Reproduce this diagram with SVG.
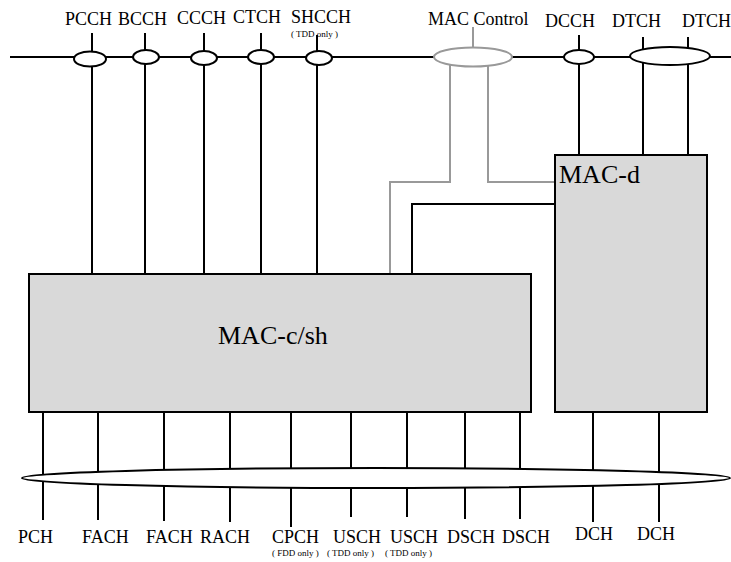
<svg xmlns="http://www.w3.org/2000/svg" width="731" height="562" viewBox="0 0 731 562">
<style>
.ln{stroke:#000;stroke-width:2;fill:none}
.gr{stroke:#999;stroke-width:2;fill:none}
.box{fill:#d9d9d9;stroke:#000;stroke-width:2}
.el{fill:#fff;stroke:#000;stroke-width:2}
.elg{fill:#fff;stroke:#999;stroke-width:2}
text{font-family:'Liberation Serif','DejaVu Serif',serif;fill:#000}
.t{font-size:18px}
.s{font-size:9px}
.big{font-size:26px}
</style>
<rect width="731" height="562" fill="#fff"/>
<g id="connectors">
<line class="ln" x1="10" y1="57" x2="731" y2="57"/>
<line class="ln" x1="92" y1="33" x2="92" y2="274"/>
<line class="ln" x1="145" y1="33" x2="145" y2="274"/>
<line class="ln" x1="204" y1="33" x2="204" y2="274"/>
<line class="ln" x1="261" y1="33" x2="261" y2="274"/>
<line class="ln" x1="317" y1="35" x2="317" y2="274"/>
<line class="gr" x1="473" y1="27" x2="473" y2="48"/>
<polyline class="gr" points="450,64 450,182 390,182 390,274"/>
<polyline class="gr" points="488,64 488,182 555,182"/>
<polyline class="ln" points="555,204 412,204 412,274"/>
<line class="ln" x1="579" y1="35" x2="579" y2="154"/>
<line class="ln" x1="643" y1="37" x2="643" y2="154"/>
<line class="ln" x1="688" y1="37" x2="688" y2="158"/>
<line class="ln" x1="43" y1="412" x2="43" y2="520"/>
<line class="ln" x1="98" y1="412" x2="98" y2="520"/>
<line class="ln" x1="164" y1="412" x2="164" y2="521"/>
<line class="ln" x1="230" y1="412" x2="230" y2="522"/>
<line class="ln" x1="291" y1="412" x2="291" y2="527"/>
<line class="ln" x1="351" y1="412" x2="351" y2="517"/>
<line class="ln" x1="407" y1="412" x2="407" y2="517"/>
<line class="ln" x1="465" y1="412" x2="465" y2="519"/>
<line class="ln" x1="520" y1="412" x2="520" y2="519"/>
<line class="ln" x1="593" y1="412" x2="593" y2="522"/>
<line class="ln" x1="659" y1="412" x2="659" y2="522"/>
</g>
<g id="logical-channels">
<ellipse class="el" cx="90" cy="59" rx="16" ry="7.5"/>
<ellipse class="el" cx="146" cy="57" rx="13" ry="7"/>
<ellipse class="el" cx="204" cy="58" rx="13" ry="7"/>
<ellipse class="el" cx="261" cy="57" rx="13" ry="7"/>
<ellipse class="el" cx="319" cy="58" rx="13" ry="7"/>
<ellipse class="elg" cx="473" cy="57" rx="39" ry="9.5"/>
<ellipse class="el" cx="579" cy="57" rx="15" ry="7"/>
<ellipse class="el" cx="670" cy="56" rx="40" ry="9"/>
<line class="ln" x1="92" y1="66" x2="92" y2="274"/>
<line class="ln" x1="145" y1="64" x2="145" y2="274"/>
<line class="ln" x1="204" y1="65" x2="204" y2="274"/>
<line class="ln" x1="261" y1="64" x2="261" y2="274"/>
<line class="ln" x1="317" y1="65" x2="317" y2="274"/>
<line class="ln" x1="579" y1="64" x2="579" y2="154"/>
<line class="ln" x1="643" y1="65" x2="643" y2="154"/>
<line class="ln" x1="688" y1="65" x2="688" y2="158"/>
<line class="gr" x1="450" y1="66" x2="450" y2="182"/>
<line class="gr" x1="488" y1="66" x2="488" y2="182"/>
<text class="t" x="65" y="25">PCCH</text>
<text class="t" x="118" y="25">BCCH</text>
<text class="t" x="177" y="24">CCCH</text>
<text class="t" x="233" y="23">CTCH</text>
<text class="t" x="291" y="23">SHCCH</text>
<text class="s" x="291" y="37">( TDD only )</text>
<text class="t" x="428" y="25">MAC Control</text>
<text class="t" x="545" y="27">DCCH</text>
<text class="t" x="612" y="27">DTCH</text>
<text class="t" x="682" y="27">DTCH</text>
</g>
<g id="mac-c-sh">
<rect class="box" x="29" y="274" width="502" height="138"/>
<text class="big" x="218" y="344">MAC-c/sh</text>
</g>
<g id="mac-d">
<rect class="box" x="555" y="155" width="152" height="257"/>
<text class="big" x="559" y="183">MAC-d</text>
</g>
<g id="transport-channels">
<ellipse class="el" cx="376" cy="478" rx="354" ry="10"/>
<text class="t" x="18" y="543">PCH</text>
<text class="t" x="82" y="543">FACH</text>
<text class="t" x="146" y="543">FACH</text>
<text class="t" x="200" y="543">RACH</text>
<text class="t" x="272" y="543">CPCH</text>
<text class="t" x="333" y="543">USCH</text>
<text class="t" x="390" y="543">USCH</text>
<text class="t" x="447" y="543">DSCH</text>
<text class="t" x="502" y="543">DSCH</text>
<text class="t" x="575" y="540">DCH</text>
<text class="t" x="637" y="540">DCH</text>
<text class="s" x="272" y="556">( FDD only )</text>
<text class="s" x="327" y="556">( TDD only )</text>
<text class="s" x="385" y="556">( TDD only )</text>
</g>
</svg>
